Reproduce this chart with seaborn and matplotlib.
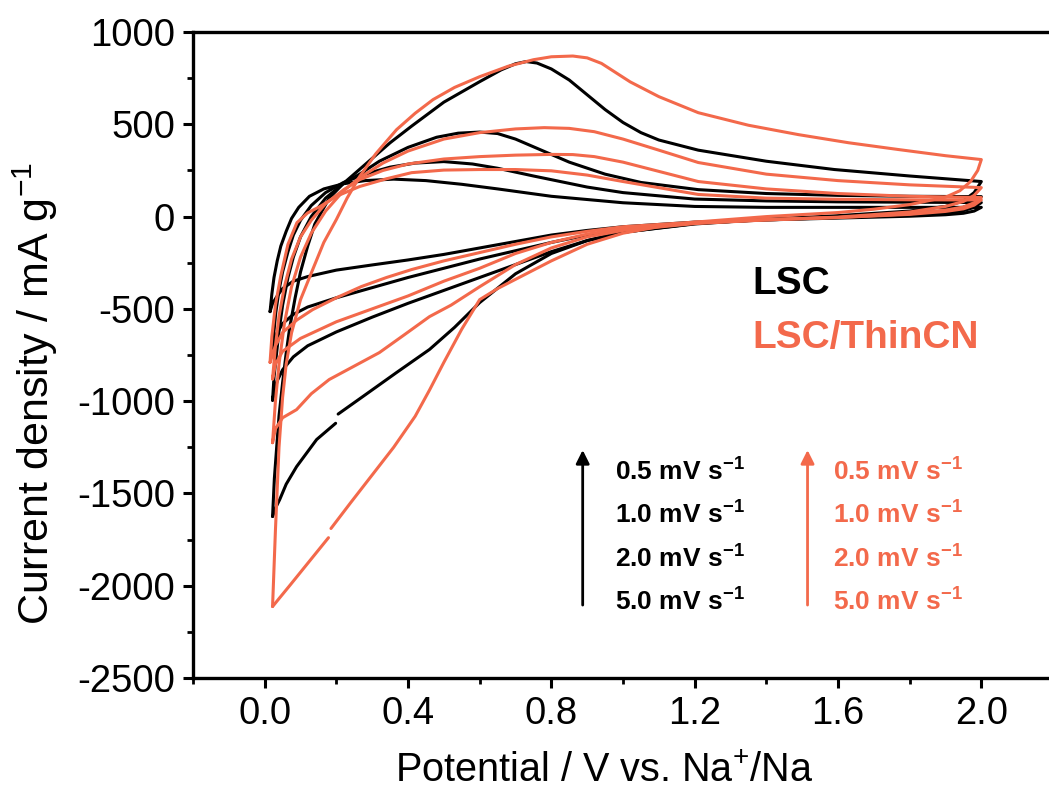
import numpy as np
import pandas as pd
import matplotlib
matplotlib.use("Agg")
import matplotlib.pyplot as plt
from matplotlib.ticker import MultipleLocator, FormatStrFormatter
import seaborn as sns

# ---------------- data: cyclic voltammograms (potential / V, current / mA g-1) ----------------
# LSC, 0.5 mV s-1
lsc05_an_v = [0.015, 0.02, 0.026, 0.035, 0.045, 0.06, 0.075, 0.095, 0.125, 0.165, 0.22, 0.28, 0.36, 0.45, 0.55, 0.65, 0.8, 1.0, 1.2, 1.4, 1.6, 1.8, 2.0]
lsc05_an_i = [-515, -420, -330, -240, -160, -80, -10, 50, 110, 150, 178, 195, 203, 195, 175, 150, 110, 75, 55, 50, 50, 50, 50]
lsc05_ca_v = [2.0, 1.98, 1.95, 1.9, 1.8, 1.6, 1.4, 1.2, 1.0, 0.9, 0.8, 0.7, 0.6, 0.5, 0.4, 0.3, 0.2, 0.12, 0.08, 0.05, 0.035, 0.022, 0.015]
lsc05_ca_i = [50, 30, 18, 10, 2, -8, -18, -30, -55, -75, -100, -135, -170, -205, -235, -262, -290, -325, -350, -390, -430, -470, -515]

# LSC, 1.0 mV s-1
lsc10_an_v = [0.022, 0.026, 0.031, 0.04, 0.05, 0.065, 0.08, 0.10, 0.13, 0.17, 0.22, 0.28, 0.35, 0.42, 0.5, 0.58, 0.65, 0.75, 0.9, 1.0, 1.2, 1.4, 1.6, 1.8, 2.0]
lsc10_an_i = [-740, -620, -520, -400, -300, -190, -100, -20, 60, 130, 185, 230, 268, 290, 298, 285, 262, 220, 160, 130, 95, 85, 80, 78, 76]
lsc10_ca_v = [2.0, 1.98, 1.95, 1.9, 1.8, 1.6, 1.4, 1.2, 1.0, 0.9, 0.8, 0.7, 0.6, 0.5, 0.4, 0.3, 0.2, 0.12, 0.08, 0.05, 0.035, 0.027, 0.022]
lsc10_ca_i = [76, 50, 32, 20, 8, -5, -18, -35, -70, -100, -140, -185, -230, -280, -330, -385, -440, -490, -530, -580, -630, -685, -740]

# LSC, 2.0 mV s-1
lsc20_an_v = [0.022, 0.026, 0.031, 0.04, 0.05, 0.065, 0.08, 0.10, 0.13, 0.17, 0.22, 0.265, 0.32, 0.4, 0.48, 0.54, 0.6, 0.65, 0.7, 0.76, 0.85, 0.95, 1.05, 1.21, 1.4, 1.6, 1.8, 2.0]
lsc20_an_i = [-995, -870, -780, -620, -480, -330, -220, -110, 0, 100, 180, 230, 300, 375, 430, 452, 458, 450, 420, 370, 295, 230, 185, 146, 125, 115, 110, 108]
lsc20_ca_v = [2.0, 1.98, 1.95, 1.9, 1.8, 1.6, 1.4, 1.2, 1.0, 0.9, 0.8, 0.7, 0.6, 0.5, 0.4, 0.3, 0.2, 0.12, 0.08, 0.05, 0.035, 0.027, 0.022]
lsc20_ca_i = [108, 75, 50, 32, 15, 0, -15, -38, -85, -130, -190, -260, -330, -400, -470, -545, -625, -700, -760, -830, -890, -945, -995]

# LSC, 5.0 mV s-1 (short break in the recorded cathodic sweep)
lsc50_an_v = [0.022, 0.027, 0.033, 0.04, 0.05, 0.06, 0.07, 0.085, 0.1, 0.12, 0.14, 0.18, 0.22, 0.285, 0.35, 0.41, 0.5, 0.6, 0.66, 0.7, 0.73, 0.76, 0.8, 0.85, 0.9, 0.95, 1.0, 1.05, 1.1, 1.21, 1.4, 1.59, 1.8, 2.0]
lsc50_an_i = [-1625, -1420, -1262, -1080, -900, -740, -600, -440, -300, -160, -40, 100, 180, 290, 400, 490, 620, 731, 795, 828, 840, 832, 800, 740, 660, 580, 510, 455, 415, 360, 300, 255, 220, 190]
lsc50_ca_v = [2.0, 1.98, 1.95, 1.9, 1.8, 1.6, 1.4, 1.2, 1.0, 0.9, 0.8, 0.7, 0.6, 0.53, 0.46, 0.368, 0.274, 0.205, np.nan, 0.198, 0.145, 0.089, 0.06, 0.042, 0.03, 0.022]
lsc50_ca_i = [190, 130, 85, 55, 30, 5, -15, -40, -85, -130, -200, -310, -466, -600, -720, -845, -975, -1070, np.nan, -1120, -1208, -1355, -1450, -1533, -1580, -1625]

# LSC/ThinCN, 0.5 mV s-1
thin05_an_v = [0.015, 0.02, 0.03, 0.045, 0.065, 0.09, 0.12, 0.154, 0.2, 0.265, 0.34, 0.41, 0.5, 0.6, 0.7, 0.8, 0.9, 1.0, 1.21, 1.4, 1.6, 1.8, 2.0]
thin05_an_i = [-790, -650, -480, -320, -150, -33, 20, 54, 110, 163, 205, 238, 252, 255, 255, 248, 225, 190, 120, 100, 94, 91, 90]
thin05_ca_v = [2.0, 1.98, 1.95, 1.9, 1.8, 1.6, 1.4, 1.2, 1.0, 0.9, 0.8, 0.7, 0.6, 0.5, 0.41, 0.34, 0.27, 0.2, 0.134, 0.09, 0.05, 0.03, 0.015]
thin05_ca_i = [90, 62, 42, 28, 12, -5, -15, -30, -55, -80, -110, -150, -195, -240, -287, -330, -379, -440, -504, -560, -628, -700, -790]

# LSC/ThinCN, 1.0 mV s-1
thin10_an_v = [0.022, 0.03, 0.04, 0.055, 0.075, 0.1, 0.13, 0.17, 0.22, 0.265, 0.33, 0.4, 0.5, 0.6, 0.7, 0.8, 0.86, 0.92, 1.0, 1.1, 1.21, 1.4, 1.6, 1.8, 2.0]
thin10_an_i = [-880, -700, -540, -380, -230, -110, -20, 70, 145, 200, 250, 285, 312, 325, 333, 337, 336, 325, 295, 245, 190, 150, 125, 110, 103]
thin10_ca_v = [2.0, 1.98, 1.95, 1.9, 1.8, 1.6, 1.4, 1.2, 1.0, 0.9, 0.8, 0.7, 0.6, 0.5, 0.4, 0.3, 0.2, 0.1, 0.05, 0.03, 0.022]
thin10_ca_i = [103, 75, 52, 35, 15, -5, -18, -35, -65, -95, -140, -200, -280, -350, -430, -500, -570, -660, -730, -800, -880]

# LSC/ThinCN, 2.0 mV s-1
thin20_an_v = [0.022, 0.03, 0.04, 0.055, 0.075, 0.1, 0.13, 0.17, 0.22, 0.265, 0.33, 0.4, 0.5, 0.6, 0.7, 0.78, 0.85, 0.92, 1.0, 1.1, 1.21, 1.4, 1.6, 1.8, 2.0]
thin20_an_i = [-1225, -1000, -800, -580, -380, -220, -90, 30, 140, 210, 290, 355, 420, 455, 475, 482, 478, 460, 420, 360, 293, 230, 195, 172, 157]
thin20_ca_v = [2.0, 1.98, 1.95, 1.9, 1.8, 1.6, 1.4, 1.2, 1.0, 0.9, 0.8, 0.7, 0.6, 0.52, 0.46, 0.39, 0.32, 0.25, 0.18, 0.13, 0.089, 0.05, 0.03, 0.022]
thin20_ca_i = [157, 115, 82, 55, 25, -3, -18, -38, -75, -110, -170, -260, -380, -480, -542, -640, -737, -810, -883, -960, -1046, -1090, -1150, -1225]

# LSC/ThinCN, 5.0 mV s-1 (short break in the recorded cathodic sweep)
thin50_an_v = [0.022, 0.03, 0.04, 0.05, 0.06, 0.075, 0.1, 0.134, 0.165, 0.2, 0.23, 0.265, 0.31, 0.368, 0.42, 0.47, 0.53, 0.6, 0.68, 0.75, 0.8, 0.86, 0.9, 0.94, 0.98, 1.02, 1.1, 1.21, 1.35, 1.49, 1.63, 1.77, 1.9, 2.0]
thin50_an_i = [-2113, -1700, -1250, -980, -800, -630, -450, -287, -140, -16, 100, 217, 340, 471, 560, 634, 700, 758, 815, 850, 866, 870, 860, 830, 780, 730, 650, 563, 495, 444, 400, 363, 330, 309]
thin50_ca_v = [2.0, 1.99, 1.97, 1.94, 1.9, 1.8, 1.7, 1.6, 1.4, 1.2, 1.1, 1.0, 0.9, 0.8, 0.7, 0.65, 0.6, 0.55, 0.5, 0.46, 0.42, 0.36, 0.3, 0.24, 0.185, np.nan, 0.178, 0.12, 0.07, 0.04, 0.022]
thin50_ca_i = [309, 250, 190, 140, 105, 65, 40, 22, 0, -30, -55, -90, -150, -240, -340, -390, -450, -610, -790, -940, -1082, -1250, -1400, -1550, -1690, np.nan, -1740, -1879, -1999, -2070, -2113]

scan_rates = ["0.5", "1.0", "2.0", "5.0"]
samples = ["LSC", "LSC/ThinCN"]
colors = {"LSC": "#000000", "LSC/ThinCN": "#F3694B"}

curves = [
    ("LSC", lsc05_an_v, lsc05_an_i, lsc05_ca_v, lsc05_ca_i),
    ("LSC", lsc10_an_v, lsc10_an_i, lsc10_ca_v, lsc10_ca_i),
    ("LSC", lsc20_an_v, lsc20_an_i, lsc20_ca_v, lsc20_ca_i),
    ("LSC", lsc50_an_v, lsc50_an_i, lsc50_ca_v, lsc50_ca_i),
    ("LSC/ThinCN", thin05_an_v, thin05_an_i, thin05_ca_v, thin05_ca_i),
    ("LSC/ThinCN", thin10_an_v, thin10_an_i, thin10_ca_v, thin10_ca_i),
    ("LSC/ThinCN", thin20_an_v, thin20_an_i, thin20_ca_v, thin20_ca_i),
    ("LSC/ThinCN", thin50_an_v, thin50_an_i, thin50_ca_v, thin50_ca_i),
]

# build long table; each unbroken stretch of a loop becomes its own drawing unit
rows = []
unit = 0
for sample, av, ai, cv, ci in curves:
    v = np.concatenate([av, cv])
    i = np.concatenate([ai, ci])
    for vv, ii in zip(v, i):
        if np.isnan(vv):
            unit += 1
            continue
        rows.append({"sample": sample, "unit": unit, "V": vv, "I": ii})
    unit += 1
df = pd.DataFrame(rows)

# ---------------- style ----------------
sns.set_theme(style="ticks")
plt.rcParams["font.family"] = ["Liberation Sans", "DejaVu Sans"]
plt.rcParams["mathtext.default"] = "regular"
plt.rcParams["axes.unicode_minus"] = False
plt.rcParams["axes.linewidth"] = 2.4
plt.rcParams["xtick.major.width"] = 2.2
plt.rcParams["ytick.major.width"] = 2.2
plt.rcParams["xtick.minor.width"] = 2.0
plt.rcParams["ytick.minor.width"] = 2.0
plt.rcParams["xtick.major.size"] = 7
plt.rcParams["ytick.major.size"] = 7
plt.rcParams["xtick.minor.size"] = 4
plt.rcParams["ytick.minor.size"] = 4
plt.rcParams["xtick.direction"] = "out"
plt.rcParams["ytick.direction"] = "out"

fig = plt.figure(figsize=(10.49, 7.95), dpi=100)
ax = fig.add_axes([0.184, 0.1472, 0.8198, 0.8125])

for sample in samples:
    sub = df[df["sample"] == sample]
    sns.lineplot(data=sub, x="V", y="I", units="unit", estimator=None, sort=False,
                 color=colors[sample], lw=2.2, ax=ax, legend=False)

ax.set_xlim(-0.2, 2.2)
ax.set_ylim(-2500, 1000)
ax.set_xticks([0.0, 0.4, 0.8, 1.2, 1.6, 2.0])
ax.xaxis.set_minor_locator(MultipleLocator(0.2))
ax.xaxis.set_major_formatter(FormatStrFormatter("%.1f"))
ax.yaxis.set_major_locator(MultipleLocator(500))
ax.yaxis.set_minor_locator(MultipleLocator(250))
ax.tick_params(axis="both", which="major", labelsize=27.5, pad=6, colors="black")
ax.tick_params(axis="both", which="minor", colors="black")
ax.spines["right"].set_visible(False)
for s in ["left", "bottom", "top"]:
    ax.spines[s].set_color("black")

ax.set_xlabel("Potential / V vs. Na$^{+}$/Na", fontsize=28.5, color="black")
ax.set_ylabel("Current density / mA g$^{-1}$", fontsize=31, color="black")
ax.xaxis.set_label_coords(0.478, -0.115)
ax.yaxis.set_label_coords(-0.155, 0.44)

# sample labels
ax.text(1.36, -363, "LSC", color=colors["LSC"], fontsize=28, fontweight="bold", va="center", ha="left")
ax.text(1.36, -660, "LSC/ThinCN", color=colors["LSC/ThinCN"], fontsize=28, fontweight="bold", va="center", ha="left")

# scan-rate keys with arrows
rate_y = [-1382, -1615, -1858, -2091]
for sample, x_arrow, x_text in [("LSC", 0.8875, 0.977), ("LSC/ThinCN", 1.515, 1.585)]:
    c = colors[sample]
    ax.annotate("", xy=(x_arrow, -1265), xytext=(x_arrow, -2105),
                arrowprops=dict(arrowstyle="-|>", color=c, lw=2.0, mutation_scale=20,
                                shrinkA=0, shrinkB=0))
    for r, y in zip(scan_rates, rate_y):
        ax.text(x_text, y, f"{r} mV s$^{{-1}}$", color=c, fontsize=19, fontweight="bold",
                va="center", ha="left")

fig.savefig("out.png", dpi=100, facecolor="white")
